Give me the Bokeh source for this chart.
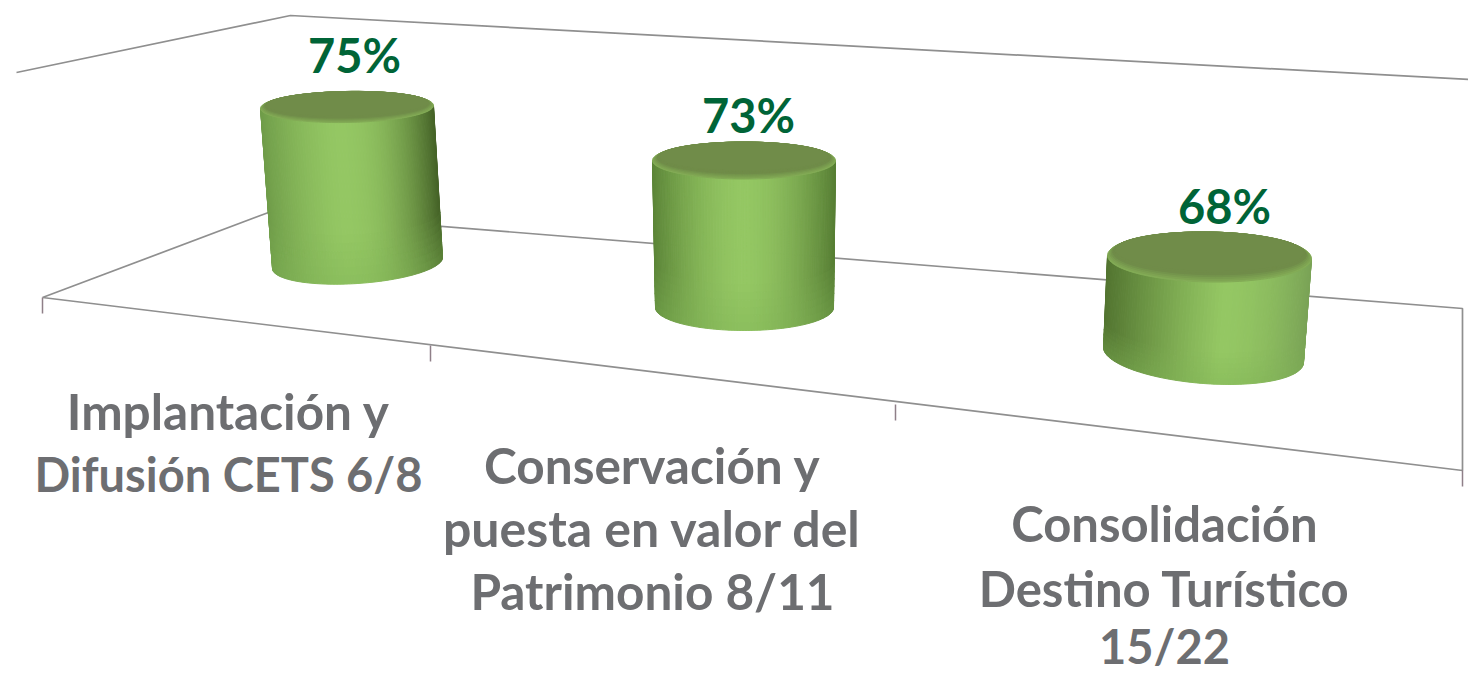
import numpy as np
from bokeh.embed import file_html
from bokeh.models import ColumnDataSource
from bokeh.plotting import figure
from bokeh.resources import INLINE
from bokeh.core.properties import value

# ---- chart data ----
categories = [
    ["Implantación y", "Difusión CETS 6/8"],
    ["Conservación y", "puesta en valor del", "Patrimonio 8/11"],
    ["Consolidación", "Destino Turístico", "15/22"],
]
percent = [75, 73, 68]

# ---- value scale of the pseudo-3D axis (truncated, pixels per point) ----
AXIS_BASE = 56.18
PX_PER_POINT = 8.29


def H(v):
    return (v - AXIS_BASE) * PX_PER_POINT


# ---- projection of each cylinder on the floor ----
geom = [
    dict(bl=(272, 268), br=(442, 257), lean_l=-12, lean_r=-9, fl=1.026, fr=0.974, bt=15.5, bb=20.5,
         u0=-0.1, eL="#6f9c49", eR="#466428", pL=1.5, pR=2.2, cx=354, lab_dy=34),
    dict(bl=(655, 307), br=(833, 307), lean_l=-3, lean_r=2, fl=1.054, fr=1.054, bt=18.5, bb=23,
         u0=0.0, eL="#5c8538", eR="#587f35", pL=1.7, pR=1.7, cx=748, lab_dy=28),
    dict(bl=(1103, 347), br=(1303, 362), lean_l=4, lean_r=8, fl=0.94, fr=1.06, bt=25, bb=28.5,
         u0=0.16, eL="#527430", eR="#7aa356", pL=1.2, pR=1.8, cx=1224, lab_dy=33.5),
]
MID = "#94c763"
TOP_RIM = "#82ab55"
TOP_CORE = "#708c49"
BOTTOM_TINT = "#7eb254"

label_x = [228, 652, 1164]
label_baselines = [[428, 491], [482, 545, 608], [540, 605, 663]]
label_sizes = [["49.5px", "47px"], ["49.5px", "50px", "49.5px"], ["49px", "49px", "47px"]]

p = figure(width=1468, height=676, x_range=(0, 1468), y_range=(676, 0),
           toolbar_location=None, output_backend="svg", min_border=0,
           background_fill_color="white", border_fill_color="white", outline_line_color=None)
p.xaxis.visible = False
p.yaxis.visible = False
p.grid.visible = False

# ---- walls, floor, ticks ----
frame_c = "#8f8f8f"
p.line([16, 290, 1468], [72, 15, 79], line_color=frame_c, line_width=1.7)
p.line([42, 268, 1462, 1462, 42], [297, 212, 308, 470, 297], line_color=frame_c, line_width=1.7)
tick_c = "#8f7f88"
for tx, ty in [(42, 297), (430, 345), (895, 404), (1462, 470)]:
    p.line([tx, tx], [ty, ty + 16], line_color=tick_c, line_width=1.5)


def rgb(h):
    return np.array([int(h[i:i + 2], 16) for i in (1, 3, 5)], float)


def mix(a, b, t):
    c = rgb(a) * (1 - t) + rgb(b) * t
    return "#%02x%02x%02x" % tuple(int(round(x)) for x in c)


xs, ys, cs = [], [], []
for v, g in zip(percent, geom):
    h = H(v)
    bl, br = np.array(g["bl"], float), np.array(g["br"], float)
    tl = bl + (g["lean_l"], -h * g["fl"])
    tr = br + (g["lean_r"], -h * g["fr"])
    ct, mt = (tl + tr) / 2, (tr - tl) / 2
    cb, mb = (bl + br) / 2, (br - bl) / 2

    def edge(c, m, b, u):
        return c + m * u + np.array([0, b * np.sqrt(max(0.0, 1 - u * u))])

    # side of the cylinder: thin slices
    us = -np.cos(np.linspace(0, np.pi, 91))
    bands = np.linspace(0.7, 1.0, 7)
    bands = np.concatenate([[0.0], bands])
    for u1, u2 in zip(us[:-1], us[1:]):
        um = (u1 + u2) / 2
        if um < g["u0"]:
            t = ((g["u0"] - um) / (1 + g["u0"])) ** g["pL"]
            base = mix(MID, g["eL"], t)
        else:
            t = ((um - g["u0"]) / (1 - g["u0"])) ** g["pR"]
            base = mix(MID, g["eR"], t)
        for k, (w1, w2) in enumerate(zip(bands[:-1], bands[1:])):
            a1, a2 = edge(ct, mt, g["bt"], u1), edge(ct, mt, g["bt"], u2)
            b1, b2 = edge(cb, mb, g["bb"], u1), edge(cb, mb, g["bb"], u2)
            p1 = a1 + (b1 - a1) * w1
            p2 = a2 + (b2 - a2) * w1
            p3 = a2 + (b2 - a2) * w2
            p4 = a1 + (b1 - a1) * w2
            col = mix(base, BOTTOM_TINT, 0.06 * k)
            xs.append([p1[0], p2[0], p3[0], p4[0]])
            ys.append([p1[1], p2[1], p3[1], p4[1]])
            cs.append(col)

    # top of the cylinder: ellipses from front rim to core, sharing the back edge
    th = np.linspace(0, 2 * np.pi, 80)
    for i, s in enumerate(np.linspace(1, 0.78, 7)):
        sx = 1 - (1 - s) * 0.35
        c = ct + np.array([0, -(1 - s) * g["bt"]])
        xs.append(list(c[0] + mt[0] * sx * np.cos(th)))
        ys.append(list(c[1] + mt[1] * sx * np.cos(th) + g["bt"] * s * np.sin(th)))
        cs.append(mix(TOP_RIM, TOP_CORE, min(1.0, i / 4)))

src = ColumnDataSource(dict(xs=xs, ys=ys, c=cs))
p.patches("xs", "ys", source=src, fill_color="c", line_color="c", line_width=1)

# ---- percent labels, sitting above each cylinder ----
lab_y = []
for v, g in zip(percent, geom):
    top_y = (g["bl"][1] - H(v) * g["fl"] + g["br"][1] - H(v) * g["fr"]) / 2
    lab_y.append(top_y - g["lab_dy"])
p.text([g["cx"] for g in geom], lab_y, text=[f"{v}%" for v in percent],
       text_font=value("Lato"), text_font_style="bold", text_font_size="47px",
       text_color="#006437", text_align="center", text_baseline="alphabetic", y_offset=-18)

# ---- category labels ----
tx, ty, tt, ts = [], [], [], []
for lines, x, bases, sizes in zip(categories, label_x, label_baselines, label_sizes):
    for line, b, s in zip(lines, bases, sizes):
        tx.append(x)
        ty.append(b)
        tt.append(line)
        ts.append(s)
lab_src = ColumnDataSource(dict(x=tx, y=ty, t=tt, s=ts))
p.text("x", "y", text="t", source=lab_src, text_font=value("Lato"), text_font_style="bold", text_font_size="s",
       text_color="#6d6e71", text_align="center", text_baseline="alphabetic", y_offset=-18)

open("out.html", "w").write(file_html(p, INLINE))
